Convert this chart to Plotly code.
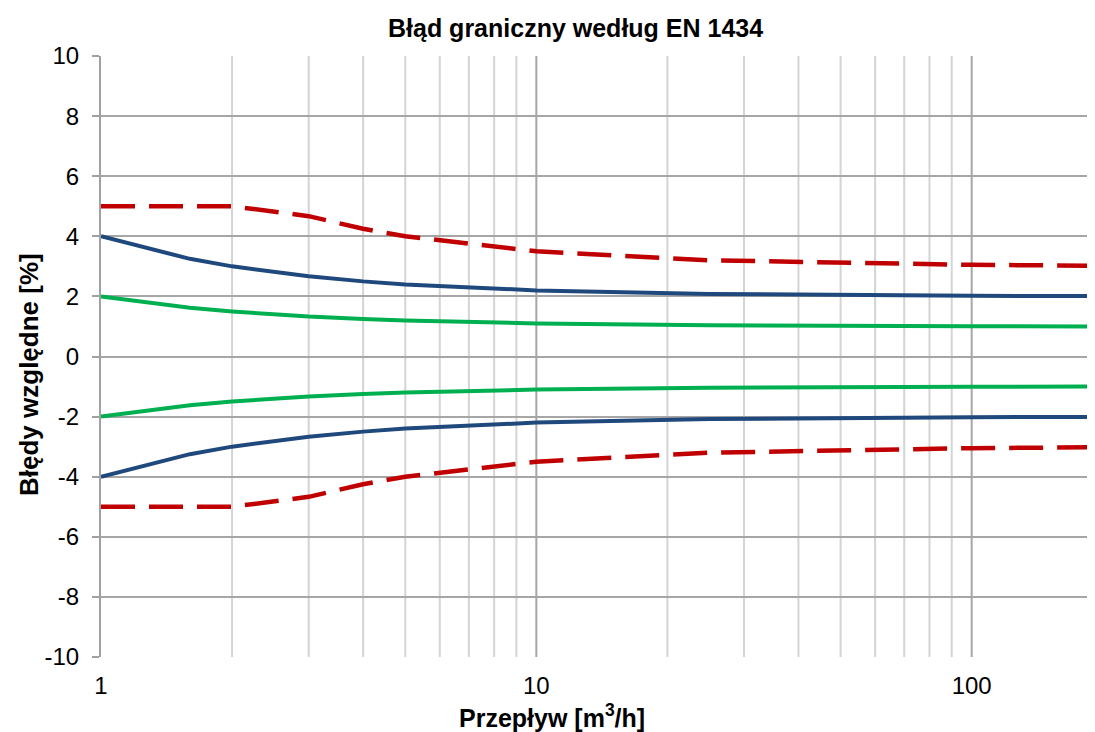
import numpy as np
import plotly.graph_objects as go

# Przepływ [m3/h]
flow = [1, 1.6, 2, 3, 4, 5, 10, 25, 100, 200]

# błąd graniczny (czerwona przerywana)
limit_upper = [5.0, 5.0, 5.0, 4.67, 4.25, 4.0, 3.5, 3.2, 3.05, 3.02]
limit_lower = [-5.0, -5.0, -5.0, -4.67, -4.25, -4.0, -3.5, -3.2, -3.05, -3.02]

# niebieska
blue_upper = [4.0, 3.25, 3.0, 2.67, 2.5, 2.4, 2.2, 2.08, 2.02, 2.01]
blue_lower = [-4.0, -3.25, -3.0, -2.67, -2.5, -2.4, -2.2, -2.08, -2.02, -2.01]

# zielona
green_upper = [2.0, 1.62, 1.5, 1.33, 1.25, 1.2, 1.1, 1.04, 1.01, 1.0]
green_lower = [-2.0, -1.62, -1.5, -1.33, -1.25, -1.2, -1.1, -1.04, -1.01, -1.0]

y_ticks = list(range(-10, 11, 2))
y_labels = [str(v) for v in y_ticks]   # zwykły łącznik zamiast "−"
x_ticks = [1, 10, 100]
x_minor = [2, 3, 4, 5, 6, 7, 8, 9, 20, 30, 40, 50, 60, 70, 80, 90]

RED = '#C00000'
BLUE = '#1F497D'
GREEN = '#00B050'
FONT = 'Liberation Sans, Arial, sans-serif'

# strona ma margines 8px (body), więc figura jest odpowiednio mniejsza
W, H, OFF = 1095, 732, 8

fig = go.Figure()

# siatka pionowa
for xv in x_minor:
    fig.add_vline(x=xv, line_width=2, line_color='#D4D4D4', layer='below')
for xv in x_ticks[1:]:
    fig.add_vline(x=xv, line_width=2, line_color='#A6A6A6', layer='below')

for ys, color in [(green_upper, GREEN), (green_lower, GREEN),
                  (blue_upper, BLUE), (blue_lower, BLUE)]:
    fig.add_trace(go.Scatter(x=flow, y=ys, mode='lines',
                             line=dict(color=color, width=4), showlegend=False))

for ys in [limit_upper, limit_lower]:
    fig.add_trace(go.Scatter(x=flow, y=ys, mode='lines',
                             line=dict(color=RED, width=4.5, dash='34px,14px'),
                             showlegend=False))

fig.update_layout(
    width=W - OFF, height=H - OFF,
    margin=dict(l=101 - OFF, r=0, t=56 - OFF, b=75),
    paper_bgcolor='white', plot_bgcolor='white',
    font=dict(family=FONT, size=24, color='black'),
    showlegend=False,
    xaxis=dict(
        type='log', range=[0, np.log10(192)],
        tickvals=x_ticks, ticktext=[str(v) for v in x_ticks],
        showgrid=False, zeroline=False, showline=False,
        ticks='', ticklabelstandoff=12,
        tickfont=dict(size=24),
    ),
    yaxis=dict(
        range=[-10, 10], tickvals=y_ticks, ticktext=y_labels,
        showgrid=True, gridcolor='#A6A6A6', gridwidth=2,
        zeroline=False,
        showline=True, linecolor='#A0A0A0', linewidth=2,
        ticks='outside', ticklen=7, tickwidth=2, tickcolor='#A0A0A0',
        ticklabelstandoff=8,
        tickfont=dict(size=24),
    ),
    annotations=[
        dict(text='<b>Błąd graniczny według EN 1434</b>', xref='paper', yref='paper',
             x=(575 - 101) / 994, y=1, yshift=28, xanchor='center', yanchor='middle',
             showarrow=False, font=dict(size=25)),
        dict(text='<b>Błędy względne [%]</b>', xref='paper', yref='paper',
             x=0, xshift=-72, y=(657 - 375) / 601, textangle=-90,
             xanchor='center', yanchor='middle', showarrow=False, font=dict(size=26)),
        dict(text='<b>Przepływ [m<sup>3</sup>/h]</b>', xref='paper', yref='paper',
             x=(552 - 101) / 994, y=0, yshift=-59, xanchor='center', yanchor='middle',
             showarrow=False, font=dict(size=25)),
    ],
)

fig.write_html('out.html')
